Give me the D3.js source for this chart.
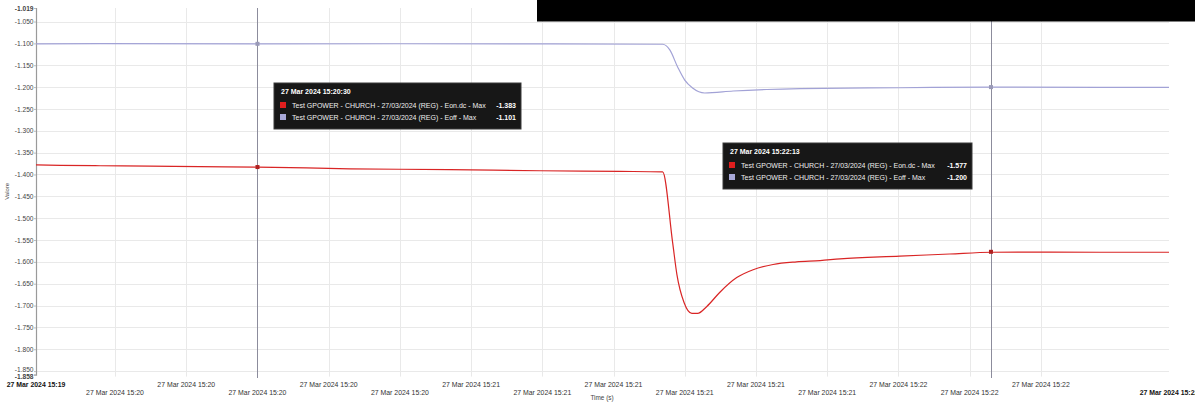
<!DOCTYPE html>
<html><head><meta charset="utf-8">
<script src="https://cdn.jsdelivr.net/npm/d3@7"></script>
<style>
html,body{margin:0;padding:0;background:#fff;}
svg{display:block;font-family:"Liberation Sans",Arial,sans-serif;}
</style></head>
<body>
<svg id="c" width="1195" height="403"></svg>
<script>
// ---- data (seconds after 27 Mar 2024 15:19:00) ----
const domainSec = [58.9, 218.0];
const eonTime = [58.9, 62.3, 67.9, 74.9, 81.9, 90, 103, 117, 129.7, 140.9, 146.9, 148.3, 148.9, 149.9, 151.0, 151.8, 153.1, 154.9, 157.3, 159.6, 162.4, 165.7, 169.0, 171.8, 180.2, 187.2, 193.1, 201.3, 208.3, 218.0];
const eonValue = [-1.378, -1.379, -1.380, -1.381, -1.382, -1.383, -1.387, -1.389, -1.3915, -1.393, -1.394, -1.556, -1.629, -1.693, -1.718, -1.718, -1.702, -1.670, -1.636, -1.618, -1.606, -1.600, -1.597, -1.593, -1.587, -1.582, -1.578, -1.5775, -1.578, -1.578];
const eoffTime = [58.9, 67.9, 90, 110, 131, 146.9, 147.9, 149.0, 150.0, 151.1, 152.8, 156.8, 161.5, 166.2, 180.2, 193.1, 208.3, 218.0];
const eoffValue = [-1.101, -1.1005, -1.101, -1.1008, -1.101, -1.102, -1.115, -1.154, -1.184, -1.202, -1.2135, -1.209, -1.2055, -1.2035, -1.2015, -1.200, -1.2005, -1.2005];
const seriesNames = ["Test GPOWER - CHURCH - 27/03/2024 (REG) - Eon.dc - Max", "Test GPOWER - CHURCH - 27/03/2024 (REG) - Eoff - Max"];
const yTicks = [-1.019, -1.050, -1.100, -1.150, -1.200, -1.250, -1.300, -1.350, -1.400, -1.450, -1.500, -1.550, -1.600, -1.650, -1.700, -1.750, -1.800, -1.850, -1.858];
const xTickSec = [70, 80, 90, 100, 110, 120, 130, 140, 150, 160, 170, 180, 190, 200];
const hoverSec = [90, 193];
const hoverTitle = ["27 Mar 2024 15:20:30", "27 Mar 2024 15:22:13"];
const hoverEon = [-1.383, -1.577];
const hoverEoff = [-1.101, -1.200];

// ---- layout ----
const base = new Date(2024, 2, 27, 15, 19, 0);
const toDate = s => new Date(base.getTime() + s * 1000);
const L = 36, R = 1169, T = 8, B = 374.6;
const x = d3.scaleTime().domain(domainSec.map(toDate)).range([L, R]);
const y = d3.scaleLinear().domain([-1.858, -1.019]).range([B, T]);
const fmt = d3.timeFormat("%d %b %Y %H:%M");
const num = d => d.toFixed(3);
const svg = d3.select("#c");

// grid
const grid = svg.append("g");
grid.selectAll("line.h").data(yTicks.filter((d, i) => i > 0 && i < yTicks.length - 1)).join("line")
  .attr("x1", L).attr("x2", R).attr("y1", d => Math.round(y(d)) + 0.5).attr("y2", d => Math.round(y(d)) + 0.5)
  .attr("stroke", "#e9e9e9").attr("stroke-width", 1);
grid.selectAll("line.v").data(xTickSec).join("line")
  .attr("x1", d => Math.round(x(toDate(d))) + 0.5).attr("x2", d => Math.round(x(toDate(d))) + 0.5)
  .attr("y1", T).attr("y2", B + 2)
  .attr("stroke", "#e9e9e9").attr("stroke-width", 1);

// y axis
const yAxis = d3.axisLeft(y).tickValues(yTicks).tickSize(2).tickFormat(num);
const ya = svg.append("g").attr("transform", `translate(${L},0)`).call(yAxis);
ya.select(".domain").attr("stroke", "#9a9a9a").attr("stroke-width", 1.2);
ya.selectAll(".tick line").attr("stroke", "#bbb");
ya.selectAll(".tick text").attr("font-size", 6.6).attr("fill", "#444").attr("x", -2.5)
  .attr("font-family", "Liberation Sans, Arial, sans-serif")
  .attr("font-weight", (d, i) => (i === 0 || i === yTicks.length - 1) ? "bold" : "normal")
  .attr("dy", (d, i) => i === yTicks.length - 1 ? "0.6em" : (i === yTicks.length - 2 ? "0.05em" : "0.32em"));

svg.append("text").attr("transform", `translate(9,${(T + B) / 2}) rotate(-90)`)
  .attr("text-anchor", "middle").attr("font-size", 6).attr("fill", "#444").text("Valore");

// x axis labels
const xa = svg.append("g");
xa.selectAll("text").data(xTickSec).join("text")
  .attr("x", d => x(toDate(d))).attr("y", (d, i) => i % 2 === 0 ? 394.5 : 386.5)
  .attr("text-anchor", "middle").attr("font-size", 6.9).attr("fill", "#333")
  .text(d => fmt(toDate(d)));
xa.selectAll("text.end").data(domainSec).join("text").attr("class", "end")
  .attr("x", d => x(toDate(d))).attr("y", (d, i) => i === 0 ? 386.5 : 394.5)
  .attr("text-anchor", "middle").attr("font-size", 6.9).attr("font-weight", "bold").attr("fill", "#111")
  .text(d => fmt(toDate(d)));
svg.append("text").attr("x", 602).attr("y", 400).attr("text-anchor", "middle")
  .attr("font-size", 6.4).attr("fill", "#444").text("Time (s)");

// crosshairs
svg.selectAll("line.cross").data(hoverSec).join("line").attr("class", "cross")
  .attr("x1", d => Math.round(x(toDate(d))) + 0.5).attr("x2", d => Math.round(x(toDate(d))) + 0.5)
  .attr("y1", T).attr("y2", 378).attr("stroke", "#8c8c9c").attr("stroke-width", 1);

// lines
const line = d3.line().x(d => x(toDate(d[0]))).y(d => y(d[1])).curve(d3.curveMonotoneX);
svg.append("path").datum(eoffTime.map((t, i) => [t, eoffValue[i]]))
  .attr("d", line).attr("fill", "none").attr("stroke", "#a2a2d6").attr("stroke-width", 1.2);
svg.append("path").datum(eonTime.map((t, i) => [t, eonValue[i]]))
  .attr("d", line).attr("fill", "none").attr("stroke", "#d92525").attr("stroke-width", 1.2);

// markers
hoverSec.forEach((s, i) => {
  svg.append("rect").attr("x", x(toDate(s)) - 2).attr("y", y(hoverEoff[i]) - 2).attr("width", 4).attr("height", 4)
    .attr("fill", "#9a9ab8");
  svg.append("rect").attr("x", x(toDate(s)) - 2).attr("y", y(hoverEon[i]) - 2).attr("width", 4).attr("height", 4)
    .attr("fill", "#b02020");
});

// tooltips
const tipPos = [[274, 83, 247, 46], [723, 143, 249, 46]];
tipPos.forEach((p, i) => {
  const g = svg.append("g").attr("transform", `translate(${p[0]},${p[1]})`);
  g.append("rect").attr("width", p[2]).attr("height", p[3]).attr("fill", "#171717").attr("stroke", "#3a3a3a").attr("stroke-width", 1);
  g.append("text").attr("x", 7).attr("y", 11).attr("font-size", 7).attr("font-weight", "bold").attr("fill", "#fff").text(hoverTitle[i]);
  const rows = [[seriesNames[0], hoverEon[i], "#e01e1e"], [seriesNames[1], hoverEoff[i], "#a8a8d8"]];
  rows.forEach((r, j) => {
    const yy = 25 + j * 12;
    g.append("rect").attr("x", 6).attr("y", yy - 6).attr("width", 6).attr("height", 6).attr("fill", r[2]);
    g.append("text").attr("x", 18).attr("y", yy).attr("font-size", 7).attr("fill", "#eee").text(r[0]);
    g.append("text").attr("x", p[2] - 5).attr("y", yy).attr("text-anchor", "end").attr("font-size", 7)
      .attr("font-weight", "bold").attr("fill", "#fff").text(num(r[1]));
  });
});

// top redaction bar
svg.append("rect").attr("x", 537).attr("y", 0).attr("width", 1195 - 537).attr("height", 21.5).attr("fill", "#000");
</script>
</body></html>
